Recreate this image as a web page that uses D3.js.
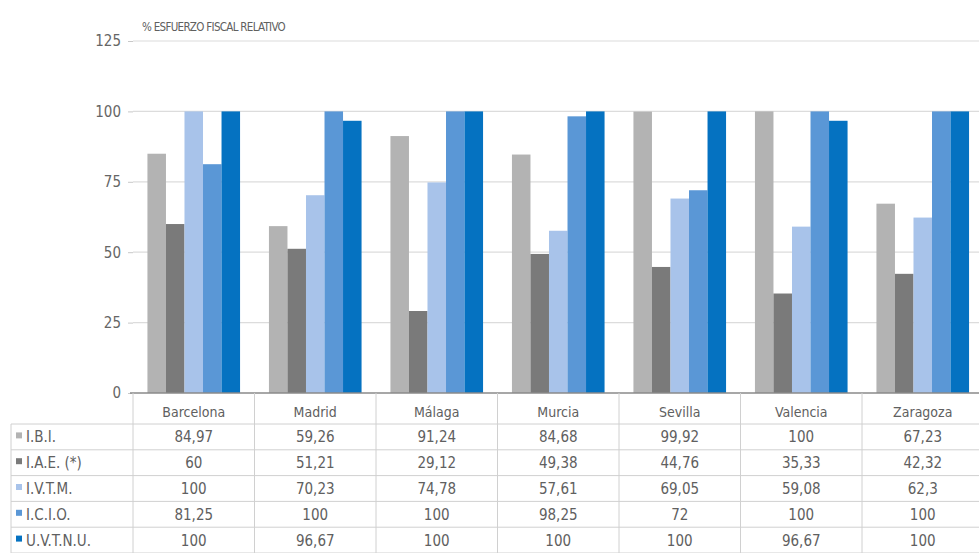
<!DOCTYPE html>
<html><head><meta charset="utf-8">
<script src="https://cdn.jsdelivr.net/npm/d3@7"></script>
<style>
html,body{margin:0;padding:0;background:#fff;}
text{font-family:"DejaVu Sans Condensed","DejaVu Sans",sans-serif;font-stretch:condensed;}
</style></head>
<body><svg id="c" width="979" height="553"></svg>
<script>
const cities = ["Barcelona","Madrid","Málaga","Murcia","Sevilla","Valencia","Zaragoza"];
const seriesNames = ["I.B.I.","I.A.E. (*)","I.V.T.M.","I.C.I.O.","U.V.T.N.U."];
const ibi   = [84.97, 59.26, 91.24, 84.68, 99.92, 100, 67.23];
const iae   = [60, 51.21, 29.12, 49.38, 44.76, 35.33, 42.32];
const ivtm  = [100, 70.23, 74.78, 57.61, 69.05, 59.08, 62.3];
const icio  = [81.25, 100, 100, 98.25, 72, 100, 100];
const uvtnu = [100, 96.67, 100, 100, 100, 96.67, 100];
const tableLabels = [["84,97","59,26","91,24","84,68","99,92","100","67,23"],
  ["60","51,21","29,12","49,38","44,76","35,33","42,32"],
  ["100","70,23","74,78","57,61","69,05","59,08","62,3"],
  ["81,25","100","100","98,25","72","100","100"],
  ["100","96,67","100","100","100","96,67","100"]];
const yTicks = [0,25,50,75,100,125];
const colors = ["#b3b3b3","#7a7a7a","#a8c3ea","#5a97d6","#0572c1"];
const title = "% ESFUERZO FISCAL RELATIVO";

const series = [ibi, iae, ivtm, icio, uvtnu];
const svg = d3.select("#c");
const x0 = 133, x1 = 983.5, yTop = 41, yBase = 393;
const x = d3.scaleBand().domain(cities).range([x0, x1]).padding(0);
const xs = d3.scaleBand().domain(d3.range(5)).range([0, x.bandwidth()]).paddingInner(0).paddingOuter(0.78);
const y = d3.scaleLinear().domain([0,125]).range([yBase, yTop]);

svg.append("g").selectAll("line").data(yTicks.filter(t=>t>0)).join("line")
  .attr("x1", x0).attr("x2", 979).attr("y1", d=>y(d)).attr("y2", d=>y(d))
  .attr("stroke", "#dcdcdc").attr("stroke-width", 1.2);

const ax = svg.append("g").attr("transform", `translate(${x0},0)`)
  .call(d3.axisLeft(y).tickValues(yTicks).tickSize(5).tickPadding(7));
ax.select(".domain").remove();
ax.selectAll(".tick line").attr("stroke", "#c8c8c8");
ax.selectAll(".tick text").attr("fill", "#666").style("font-size", "15px");

const g = svg.append("g");
cities.forEach((c, ci) => {
  series.forEach((s, si) => {
    g.append("rect")
      .attr("x", x(c) + xs(si))
      .attr("width", xs.bandwidth())
      .attr("y", y(s[ci]))
      .attr("height", yBase - y(s[ci]))
      .attr("fill", colors[si]);
  });
});

svg.append("line").attr("x1", x0-3).attr("x2", 979).attr("y1", yBase).attr("y2", yBase)
  .attr("stroke", "#8a8a8a").attr("stroke-width", 1.5);

svg.append("text").attr("x", 142).attr("y", 31).text(title)
  .attr("fill", "#606060").style("font-size", "11.5px").style("letter-spacing", "-0.7px");

const headerBottom = 424, rowH = 25.8, tLeft = 11;
const tg = svg.append("g");
const lineColor = "#d0d0d0";
for (let r = 0; r <= 5; r++) {
  const yy = headerBottom + r * rowH;
  tg.append("line").attr("x1", tLeft).attr("x2", 979).attr("y1", yy).attr("y2", yy)
    .attr("stroke", lineColor).attr("stroke-width", 1);
}
cities.forEach(c => {
  tg.append("line").attr("x1", x(c)).attr("x2", x(c)).attr("y1", yBase).attr("y2", 553)
    .attr("stroke", lineColor).attr("stroke-width", 1);
});
tg.append("line").attr("x1", tLeft).attr("x2", tLeft).attr("y1", headerBottom).attr("y2", 553)
  .attr("stroke", lineColor).attr("stroke-width", 1);
tg.selectAll("text.h").data(cities).join("text").attr("class","h")
  .attr("x", d => x(d) + x.bandwidth()/2).attr("y", 417)
  .attr("text-anchor", "middle").attr("fill", "#606060").style("font-size", "14px").text(d => d);
seriesNames.forEach((n, si) => {
  const cy = headerBottom + si * rowH + rowH/2 + 5.5;
  tg.append("rect").attr("x", 16).attr("y", cy - 10).attr("width", 6).attr("height", 6).attr("fill", colors[si]);
  tg.append("text").attr("x", 26).attr("y", cy).attr("fill", "#606060").style("font-size", "15px").text(n);
  cities.forEach((c, ci) => {
    tg.append("text").attr("x", x(c) + x.bandwidth()/2).attr("y", cy)
      .attr("text-anchor", "middle").attr("fill", "#606060").style("font-size", "15px")
      .text(tableLabels[si][ci]);
  });
});
</script></body></html>
